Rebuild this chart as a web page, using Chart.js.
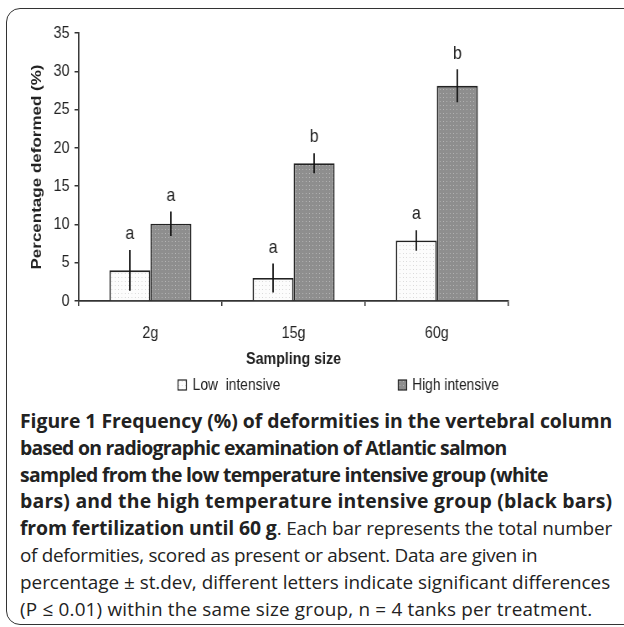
<!DOCTYPE html>
<html>
<head>
<meta charset="utf-8">
<script src="https://cdn.jsdelivr.net/npm/chart.js@4"></script>
<style>
    body { margin: 0; background: #fff; width: 624px; height: 627px; overflow: hidden; position: relative; }
    #frame { position: absolute; left: 6px; top: 8px; width: 700px; height: 615px; border: 1.5px solid #333; border-radius: 14px; }
    /* the figure is drawn wider and squeezed to fit, like the source image */
    #wrap { position: absolute; left: 0; top: 0; width: 745px; height: 400px; transform: scaleX(0.8376); transform-origin: 0 0; }
    #caption { position: absolute; left: 20px; top: 408px; color: #222; font-family: "Open Sans", sans-serif; white-space: nowrap; }
    #caption div { width: max-content; height: 26.8px; line-height: 26.8px; font-size: 18.9px; }
    #caption b { font-size: 19.4px; }
</style>
</head>
<body>
<div id="frame"></div>
<div id="wrap"><canvas id="chart" width="745" height="400"></canvas></div>
<div id="caption">
    <div><b>Figure 1 Frequency (%) of deformities in the vertebral column</b></div>
    <div><b>based on radiographic examination of Atlantic salmon</b></div>
    <div><b>sampled from the low temperature intensive group (white</b></div>
    <div><b>bars) and the high temperature intensive group (black bars)</b></div>
    <div><b>from fertilization until 60 g</b>. Each bar represents the total number</div>
    <div>of deformities, scored as present or absent. Data are given in</div>
    <div>percentage ± st.dev, different letters indicate significant differences</div>
    <div>(P ≤ 0.01) within the same size group, n = 4 tanks per treatment.</div>
</div>
<script>
// values
const categories = ['2g', '15g', '60g'];
const seriesLabels = ['Low  intensive', 'High intensive'];
const lowValues = [4.0, 3.0, 7.9];
const highValues = [10.1, 18.0, 28.1];
const lowErrors = [2.65, 1.9, 1.35];
const highErrors = [1.6, 1.3, 2.15];
const lowLetters = ['a', 'a', 'a'];
const highLetters = ['a', 'b', 'b'];

// caption line lengths in the source, px
const captionWidths = [592, 487, 528, 592, 592, 518, 590, 572];

Chart.defaults.font.family = '"Liberation Sans", Arial, sans-serif';
Chart.defaults.color = '#222';

const ctx = document.getElementById('chart').getContext('2d');

// dotted fill like the original bars
function makePattern(bg, dot) {
    const c = document.createElement('canvas');
    c.width = 4;
    c.height = 4;
    const g = c.getContext('2d');
    g.fillStyle = bg;
    g.fillRect(0, 0, 4, 4);
    g.fillStyle = dot;
    g.fillRect(1, 1, 1, 1);
    return ctx.createPattern(c, 'repeat');
}
const lowFill = makePattern('#fcfcfc', '#d6d6d6');
const highFill = makePattern('#8e8e8e', '#b8b8b8');

// error bars + significance letters
const errorBars = {
    id: 'errorBars',
    afterDatasetsDraw(chart) {
        const c = chart.ctx;
        const y = chart.scales.y;
        c.save();
        chart.data.datasets.forEach((ds, i) => {
            const meta = chart.getDatasetMeta(i);
            meta.data.forEach((bar, j) => {
                const v = ds.data[j];
                const top = y.getPixelForValue(v + ds.errors[j]);
                const bot = y.getPixelForValue(v - ds.errors[j]);
                c.strokeStyle = '#111';
                c.lineWidth = 1.8;
                c.beginPath();
                c.moveTo(bar.x, top);
                c.lineTo(bar.x, bot);
                c.stroke();
                c.fillStyle = '#222';
                c.font = '19px "Liberation Sans", Arial, sans-serif';
                c.textAlign = 'center';
                c.textBaseline = 'middle';
                c.fillText(ds.letters[j], bar.x, top - 16);
            });
        });
        c.restore();
    }
};

// legend under the axis title
const boxLegend = {
    id: 'boxLegend',
    afterDraw(chart) {
        const c = chart.ctx;
        const items = [[212, 230], [475, 492]];
        c.save();
        chart.data.datasets.forEach((ds, i) => {
            const [bx, tx] = items[i];
            c.fillStyle = ds.backgroundColor;
            c.fillRect(bx, 380, 10, 10);
            c.strokeStyle = '#222';
            c.lineWidth = 1.2;
            c.strokeRect(bx + 0.5, 380, 10, 10);
            c.fillStyle = '#222';
            c.font = '16.5px "Liberation Sans", Arial, sans-serif';
            c.textBaseline = 'middle';
            c.textAlign = 'left';
            c.fillText(ds.label, tx, 385);
        });
        c.restore();
    }
};

new Chart(ctx, {
    type: 'bar',
    data: {
        labels: categories,
        datasets: [
            {
                label: seriesLabels[0],
                data: lowValues,
                errors: lowErrors,
                letters: lowLetters,
                backgroundColor: lowFill,
                borderColor: '#222',
                borderWidth: 1.8,
                categoryPercentage: 0.573,
                barPercentage: 1.0
            },
            {
                label: seriesLabels[1],
                data: highValues,
                errors: highErrors,
                letters: highLetters,
                backgroundColor: highFill,
                borderColor: '#222',
                borderWidth: 1.8,
                categoryPercentage: 0.573,
                barPercentage: 1.0
            }
        ]
    },
    options: {
        responsive: false,
        animation: false,
        devicePixelRatio: 1,
        layout: { padding: { left: 0, right: 138, top: 33, bottom: 29 } },
        plugins: {
            legend: { display: false },
            tooltip: { enabled: false }
        },
        scales: {
            x: {
                grid: { offset: true, drawOnChartArea: false, tickLength: 5, color: '#333', lineWidth: 1.5 },
                border: { color: '#333', width: 1.8 },
                ticks: { font: { size: 17 }, padding: 17 },
                title: {
                    display: true,
                    text: 'Sampling size',
                    font: { size: 17, weight: 'bold' },
                    padding: { top: 0, bottom: 1 }
                },
                afterFit(scale) { scale.height = 70; }
            },
            y: {
                min: 0,
                max: 35,
                grid: { drawOnChartArea: false, tickLength: 5, color: '#333', lineWidth: 1.5 },
                border: { color: '#333', width: 1.8 },
                ticks: { stepSize: 5, font: { size: 17 }, padding: 6 },
                title: {
                    display: true,
                    text: 'Percentage deformed (%)',
                    font: { size: 17, weight: 'bold' },
                    padding: { top: 34, bottom: 0 }
                },
                afterFit(scale) { scale.width = 94; }
            }
        }
    },
    plugins: [errorBars, boxLegend]
});

// stretch each caption line to the length it has in the source
document.querySelectorAll('#caption div').forEach((line, i) => {
    const w = line.offsetWidth;
    const n = line.textContent.length - 1;
    line.style.letterSpacing = ((captionWidths[i] - w) / n) + 'px';
});
</script>
</body>
</html>
